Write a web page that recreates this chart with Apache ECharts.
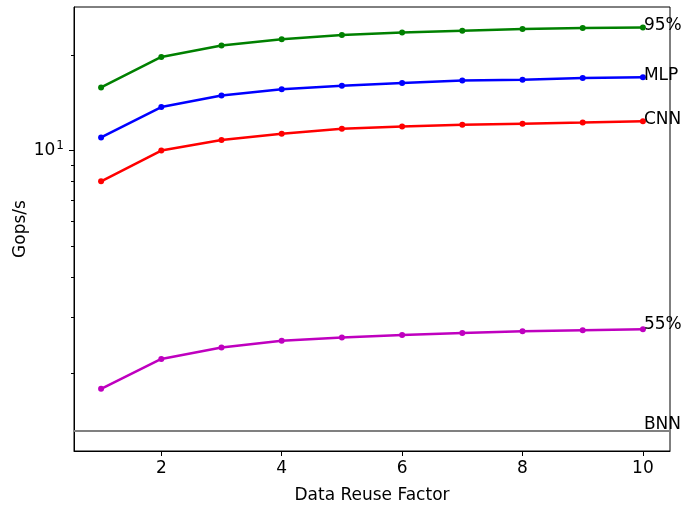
<!DOCTYPE html>
<html>
<head>
<meta charset="utf-8">
<script src="https://cdn.jsdelivr.net/npm/echarts@6/dist/echarts.min.js"></script>
<style>
  html, body { margin: 0; padding: 0; background: #fff; }
  #chart { width: 681px; height: 507px; }
</style>
</head>
<body>
<div id="chart"></div>
<script>
// data
const reuse = [1, 2, 3, 4, 5, 6, 7, 8, 9, 10];
const peak95 = [15.8, 19.7, 21.4, 22.4, 23.1, 23.5, 23.8, 24.1, 24.3, 24.4];
const mlp = [11.0, 13.7, 14.9, 15.6, 16.0, 16.3, 16.6, 16.7, 16.9, 17.0];
const cnn = [8.0, 10.0, 10.8, 11.3, 11.7, 11.9, 12.05, 12.15, 12.25, 12.37];
const peak55 = [1.78, 2.21, 2.40, 2.52, 2.58, 2.63, 2.67, 2.70, 2.72, 2.74];
const bnn = 1.314;

const xTicks = [2, 4, 6, 8, 10];
const yMajorTicks = [10];
const yMinorTicks = [2, 3, 4, 5, 6, 7, 8, 9, 20];

const FONT = 'DejaVu Sans';

const lines = [
  { name: '95%', data: peak95, color: '#008000', dy: 4.4 },
  { name: 'MLP', data: mlp, color: '#0000ff', dy: 4.4 },
  { name: 'CNN', data: cnn, color: '#ff0000', dy: 4.7 },
  { name: '55%', data: peak55, color: '#bf00bf', dy: 1.3 }
];

const chart = echarts.init(document.getElementById('chart'));

const series = lines.map(l => ({
  name: l.name,
  type: 'line',
  data: reuse.map((x, i) => [x, l.data[i]]),
  symbol: 'circle',
  symbolSize: 6,
  lineStyle: { color: l.color, width: 2.5 },
  itemStyle: { color: l.color },
  animation: false
}));

series.push({
  name: 'BNN',
  type: 'line',
  data: [],
  animation: false,
  markLine: {
    silent: true,
    symbol: 'none',
    label: { show: false },
    lineStyle: { color: '#808080', width: 2, type: 'solid' },
    data: [{ yAxis: bnn }]
  }
});

const yRange = { min: 1.135, max: 28.28 };

chart.setOption({
  animation: false,
  grid: {
    left: 74, right: 11, top: 7, bottom: 56,
    outerBoundsMode: 'none',
    show: true, borderColor: '#000', borderWidth: 1
  },
  xAxis: {
    type: 'value',
    min: 0.55,
    max: 10.45,
    name: 'Data Reuse Factor',
    nameLocation: 'middle',
    nameGap: 36,
    nameMoveOverlap: false,
    nameTextStyle: { fontFamily: FONT, fontSize: 17, color: '#000' },
    axisLine: { show: true, lineStyle: { color: '#000', width: 1 } },
    axisTick: { show: true, length: 5, customValues: xTicks, lineStyle: { color: '#000' } },
    axisLabel: { customValues: xTicks, margin: 9, fontFamily: FONT, fontSize: 17, color: '#000' },
    splitLine: { show: false }
  },
  yAxis: [{
    type: 'log',
    logBase: 10,
    min: yRange.min,
    max: yRange.max,
    name: 'Gops/s',
    nameLocation: 'middle',
    nameGap: 45,
    nameMoveOverlap: false,
    nameTextStyle: { fontFamily: FONT, fontSize: 17, color: '#000' },
    axisLine: { show: true, lineStyle: { color: '#000', width: 1 } },
    axisTick: { show: true, length: 5, customValues: yMajorTicks, lineStyle: { color: '#000' } },
    axisLabel: {
      customValues: yMajorTicks, margin: 10,
      fontFamily: FONT, fontSize: 17, color: '#000',
      formatter: v => '10{s|1}',
      rich: {
        s: { fontFamily: FONT, fontSize: 12, color: '#000', padding: [0, 0, 9, 1] }
      }
    },
    splitLine: { show: false }
  }, {
    type: 'log',
    logBase: 10,
    min: yRange.min,
    max: yRange.max,
    position: 'left',
    axisLine: { show: false },
    axisTick: { show: true, length: 3, customValues: yMinorTicks, lineStyle: { color: '#000' } },
    axisLabel: { show: false },
    splitLine: { show: false }
  }],
  series: series
});

// end-of-line text labels, placed at x = 10 like the reference
const labelTexts = lines.map(l => {
  const p = chart.convertToPixel({ xAxisIndex: 0, yAxisIndex: 0 }, [reuse[reuse.length - 1], l.data[l.data.length - 1]]);
  return { text: l.name, x: p[0] + 1, y: p[1] + l.dy - 6.2 };
});
const pb = chart.convertToPixel({ xAxisIndex: 0, yAxisIndex: 0 }, [reuse[reuse.length - 1], bnn]);
labelTexts.push({ text: 'BNN', x: pb[0] + 1, y: pb[1] - 6.2 });

chart.setOption({
  graphic: labelTexts.map(t => ({
    type: 'text',
    x: t.x,
    y: t.y,
    z: 100,
    style: {
      text: t.text,
      fontFamily: FONT,
      fontSize: 17,
      fill: '#000',
      align: 'left',
      verticalAlign: 'middle'
    }
  }))
});
</script>
</body>
</html>
